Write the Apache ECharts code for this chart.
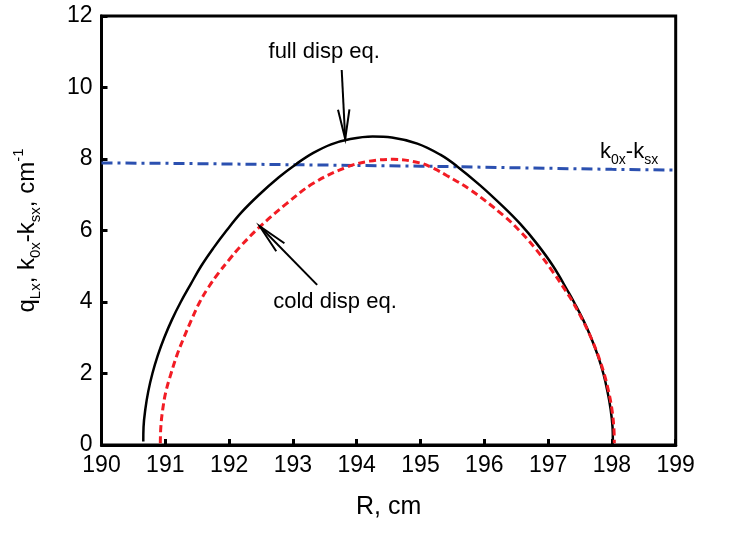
<!DOCTYPE html>
<html>
<head>
<meta charset="utf-8">
<script src="https://cdn.jsdelivr.net/npm/echarts@6/dist/echarts.min.js"></script>
<style>
html,body{margin:0;padding:0;background:#fff;}
#main{width:729px;height:533px;}
</style>
</head>
<body>
<div id="main"></div>
<script>
// ---- data ----
var xTicks = [190, 191, 192, 193, 194, 195, 196, 197, 198, 199];
var yTicks = [0, 2, 4, 6, 8, 10, 12];

var fullR = [190.655, 190.659, 190.687, 190.733, 190.798, 190.881, 190.983, 191.103, 191.242, 191.399, 191.56, 191.75, 191.96, 192.19, 192.47, 192.78, 193.06, 193.32, 193.60, 193.90, 194.25, 194.55, 194.95, 195.31, 195.57, 195.93, 196.30, 196.56, 196.82, 197.08, 197.33, 197.405, 197.55, 197.674, 197.78, 197.866, 197.93, 197.98, 198.01, 198.015];
var fullQ = [0.10, 0.50, 1.00, 1.50, 2.00, 2.50, 3.00, 3.50, 4.00, 4.50, 5.00, 5.50, 6.00, 6.50, 7.00, 7.49, 7.87, 8.17, 8.41, 8.56, 8.63, 8.60, 8.43, 8.12, 7.80, 7.27, 6.66, 6.19, 5.64, 5.00, 4.24, 4.00, 3.50, 3.00, 2.50, 2.00, 1.50, 1.00, 0.50, 0.12];

var coldR = [190.922, 190.93, 190.96, 191.01, 191.09, 191.18, 191.29, 191.41, 191.54, 191.68, 191.83, 192.00, 192.17, 192.48, 192.90, 193.32, 193.84, 194.20, 194.57, 194.99, 195.20, 195.41, 195.78, 196.30, 196.56, 196.82, 197.08, 197.34, 197.387, 197.54, 197.673, 197.785, 197.877, 197.948, 198.00, 198.03, 198.038];
var coldQ = [0.05, 0.50, 1.00, 1.50, 2.00, 2.50, 3.00, 3.50, 4.00, 4.42, 4.80, 5.18, 5.54, 6.10, 6.75, 7.32, 7.77, 7.94, 7.99, 7.89, 7.74, 7.54, 7.14, 6.42, 5.98, 5.45, 4.83, 4.14, 4.00, 3.50, 3.00, 2.50, 2.00, 1.50, 1.00, 0.50, 0.05];

var kR = [190, 191, 192, 193, 194, 195, 196, 197, 198, 199];
var kQ = [7.89, 7.88, 7.86, 7.84, 7.82, 7.80, 7.77, 7.74, 7.71, 7.69];

// annotation arrows: [tailR, tailQ, tipR, tipQ]
var arrowFull = [193.765, 10.49, 193.82, 8.56];
var arrowCold = [193.38, 4.48, 192.48, 6.12];
// annotation texts: [R, q]
var textFullPos = [193.49, 10.99];
var textColdPos = [193.66, 4.00];
var textKPos = [198.27, 8.20];
var textFull = 'full disp eq.';
var textCold = 'cold disp eq.';

function zip(a, b) { return a.map(function (v, i) { return [v, b[i]]; }); }

var FONT = '"Liberation Sans", Arial, sans-serif';

var chart = echarts.init(document.getElementById('main'));

function renderArrow(params, api) {
  var t = api.coord([api.value(0), api.value(1)]);
  var p = api.coord([api.value(2), api.value(3)]);
  var dx = t[0] - p[0], dy = t[1] - p[1];
  var ang = Math.atan2(dy, dx);
  var L = 30, a = 11 * Math.PI / 180;
  var w1 = [p[0] + L * Math.cos(ang + a), p[1] + L * Math.sin(ang + a)];
  var w2 = [p[0] + L * Math.cos(ang - a), p[1] + L * Math.sin(ang - a)];
  var st = { stroke: '#000', lineWidth: 2, fill: null };
  return {
    type: 'group',
    children: [
      { type: 'line', shape: { x1: t[0], y1: t[1], x2: p[0], y2: p[1] }, style: st },
      { type: 'polyline', shape: { points: [w1, p, w2] }, style: st }
    ]
  };
}

var richA = {
  n: { fontSize: 22, fontFamily: FONT, color: '#000', lineHeight: 30 },
  sub: { fontSize: 14, fontFamily: FONT, color: '#000', verticalAlign: 'bottom', lineHeight: 18 }
};
var richY = {
  n: { fontSize: 24, fontFamily: FONT, color: '#000', lineHeight: 32 },
  sub: { fontSize: 15, fontFamily: FONT, color: '#000', verticalAlign: 'bottom', lineHeight: 19 },
  sup: { fontSize: 15, fontFamily: FONT, color: '#000', verticalAlign: 'top', lineHeight: 19 }
};

var textItems = [
  '{n|' + textFull + '}',
  '{n|' + textCold + '}',
  '{n|k}{sub|0x}{n|-k}{sub|sx}'
];

function renderText(params, api) {
  var c = api.coord([api.value(0), api.value(1)]);
  return {
    type: 'text',
    x: c[0], y: c[1],
    style: {
      text: textItems[params.dataIndex],
      rich: richA,
      align: 'center',
      verticalAlign: 'middle',
      font: '22px ' + FONT,
      fill: '#000'
    }
  };
}

var option = {
  animation: false,
  backgroundColor: '#fff',
  grid: {
    left: 101.5, right: 53.3, top: 16, bottom: 88,
    show: true, borderColor: '#000', borderWidth: 3, backgroundColor: 'transparent'
  },
  xAxis: {
    type: 'value', min: xTicks[0], max: xTicks[xTicks.length - 1], interval: 1,
    name: 'R, cm', nameLocation: 'middle', nameGap: 50,
    nameTextStyle: { fontSize: 25, fontFamily: FONT, color: '#000' },
    axisLine: { show: true, lineStyle: { color: '#000', width: 3 } },
    axisTick: { show: true, inside: true, length: 6, lineStyle: { color: '#000', width: 3 } },
    axisLabel: { fontSize: 23, fontFamily: FONT, color: '#000', margin: 9 },
    splitLine: { show: false }
  },
  yAxis: {
    type: 'value', min: yTicks[0], max: yTicks[yTicks.length - 1], interval: 2,
    name: '{n|q}{sub|Lx}{n|, k}{sub|0x}{n|-k}{sub|sx}{n|, cm}{sup|-1}',
    nameLocation: 'middle', nameGap: 58, nameRotate: 90,
    nameTextStyle: { rich: richY, fontSize: 24, fontFamily: FONT, color: '#000' },
    axisLine: { show: true, lineStyle: { color: '#000', width: 3 } },
    axisTick: { show: true, inside: true, length: 6, lineStyle: { color: '#000', width: 3 } },
    axisLabel: { fontSize: 23, fontFamily: FONT, color: '#000', margin: 9 },
    splitLine: { show: false }
  },
  series: [
    {
      name: 'full', type: 'line', data: zip(fullR, fullQ), showSymbol: false,
      smooth: 0.4,
      lineStyle: { color: '#000', width: 2.5 }, z: 3
    },
    {
      name: 'cold', type: 'line', data: zip(coldR, coldQ), showSymbol: false,
      smooth: 0.4,
      lineStyle: { color: '#f21c24', width: 3, type: [7, 4] }, z: 4
    },
    {
      name: 'k', type: 'line', data: zip(kR, kQ), showSymbol: false,
      lineStyle: { color: '#2b50b0', width: 3, type: [11, 5, 3, 5] }, z: 2
    },
    {
      type: 'custom', coordinateSystem: 'cartesian2d', clip: false,
      renderItem: renderArrow,
      encode: { x: [0, 2], y: [1, 3] },
      data: [arrowFull, arrowCold], z: 5, silent: true
    },
    {
      type: 'custom', coordinateSystem: 'cartesian2d', clip: false,
      renderItem: renderText,
      data: [textFullPos, textColdPos, textKPos], z: 5, silent: true
    }
  ]
};
chart.setOption(option);
</script>
</body>
</html>
